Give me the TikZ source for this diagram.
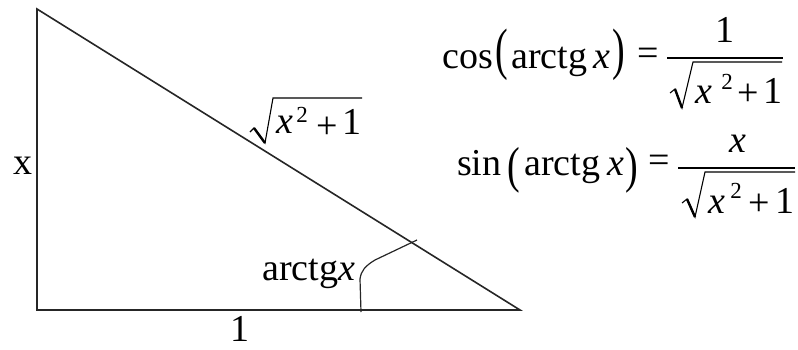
\documentclass[tikz,border=0pt]{standalone}
\usepackage{fontspec}
\setmainfont{Liberation Serif}
\usepackage{graphicx}
\begin{document}
\begin{tikzpicture}[x=1pt,y=-1pt,
  lbl/.style={inner sep=0pt, anchor=base west, font=\fontsize{38}{40}\selectfont},
  lblb/.style={inner sep=0pt, anchor=base, font=\fontsize{38}{40}\selectfont},
  lblc/.style={inner sep=0pt, anchor=center, font=\fontsize{38}{40}\selectfont},
  supr/.style={inner sep=0pt, anchor=base, font=\fontsize{23}{25}\selectfont},
  edge/.style={line width=1.6pt, draw=black!85, line join=miter},
  thin/.style={line width=1.2pt, draw=black!85},
  radthin/.style={line width=1.1pt, line join=miter},
  radthick/.style={line width=2.4pt, line cap=butt},
  fbar/.style={line width=1.3pt}]
\useasboundingbox (0,0) rectangle (798,349);
% triangle
\coordinate (A) at (37,9);
\coordinate (B) at (37,310);
\coordinate (C) at (520,310);
\draw[edge] (A) -- (B) -- (C) -- cycle;
% angle mark
\coordinate (a1) at (361,312);
\coordinate (a2) at (360,279);
\coordinate (a3) at (375,260);
\coordinate (a4) at (417,240);
\draw[thin] (a1) -- (a2) .. controls (361,271) and (365,266) .. (a3) -- (a4);
% triangle labels
\node[lblb] (xl) at (22.5,174) {x};
\node[lblb] (one) at (239.5,341) {1};
\node[lbl] (ang) at (262,280) {arctg\textit{x}};
% sqrt on hypotenuse
\coordinate (h1) at (250,132);
\coordinate (h2) at (254,128);
\coordinate (h3) at (265,143);
\coordinate (h4) at (273,98);
\coordinate (h5) at (362,98);
\draw[radthin] (h1) -- (h2) -- (h3) -- (h4) -- (h5);
\draw[radthick] (h2) -- (h3);
\node[lblb] (hx) at (285,133) {\textit{x}};
\node[supr] (h2s) at (302,122) {2};
\node[lblc] (hp) at (327.5,128) {+};
\node[lblb] (h1s) at (351.5,134) {1};
% formula 1
\node[lbl] (cos) at (442,68) {cos};
\node[lblc] (p1l) at (501.5,55) {\scalebox{1}[1.5]{(}};
\node[lbl] (arc1) at (511,68) {arctg};
\node[lblb] (x1) at (602,68) {\textit{x}};
\node[lblc] (p1r) at (618.5,55) {\scalebox{1}[1.5]{)}};
\node[lblc] (eq1) at (648.5,56.5) {=};
\node[lblb] (n1) at (725,42) {1};
\coordinate (b1l) at (667,58);
\coordinate (b1r) at (783,58);
\draw[fbar] (b1l) -- (b1r);
\coordinate (r1a) at (670,93);
\coordinate (r1b) at (675,89);
\coordinate (r1c) at (682,108);
\coordinate (r1d) at (693,62);
\coordinate (r1e) at (782,62);
\draw[radthin] (r1a) -- (r1b) -- (r1c) -- (r1d) -- (r1e);
\draw[radthick] (r1b) -- (r1c);
\node[lblb] (d1x) at (703.5,103) {\textit{x}};
\node[supr] (d1s) at (727,89) {2};
\node[lblc] (d1p) at (748,95) {+};
\node[lblb] (d1o) at (773,103) {1};
% formula 2
\node[lbl] (sin) at (457,175) {sin};
\node[lblc] (p2l) at (514,170) {\scalebox{1}[1.33]{(}};
\node[lbl] (arc2) at (524,175) {arctg};
\node[lblb] (x2) at (616,175) {\textit{x}};
\node[lblc] (p2r) at (632,170) {\scalebox{1}[1.33]{)}};
\node[lblc] (eq2) at (659,164) {=};
\node[lblb] (n2) at (737.5,152) {\textit{x}};
\coordinate (b2l) at (678,168);
\coordinate (b2r) at (795,168);
\draw[fbar] (b2l) -- (b2r);
\coordinate (r2a) at (682,203);
\coordinate (r2b) at (687,199);
\coordinate (r2c) at (695,217);
\coordinate (r2d) at (705,172);
\coordinate (r2e) at (795,172);
\draw[radthin] (r2a) -- (r2b) -- (r2c) -- (r2d) -- (r2e);
\draw[radthick] (r2b) -- (r2c);
\node[lblb] (d2x) at (716.5,213) {\textit{x}};
\node[supr] (d2s) at (736,198) {2};
\node[lblc] (d2p) at (759,205) {+};
\node[lblb] (d2o) at (785,213) {1};
\end{tikzpicture}
\end{document}
